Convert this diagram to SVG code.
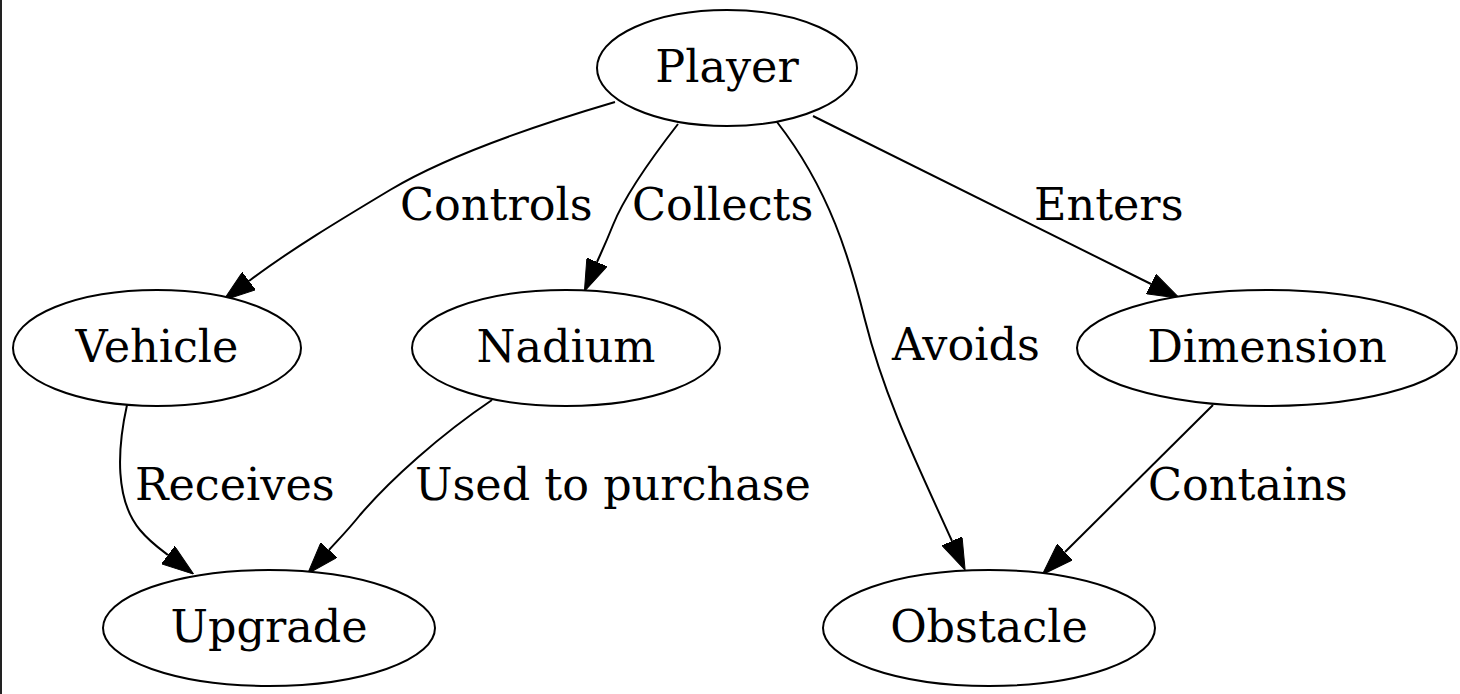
<svg xmlns="http://www.w3.org/2000/svg" width="1460" height="694" viewBox="0 0 1460 694">
<defs>
<style>
.node ellipse{fill:#fff;stroke:#000;stroke-width:2}
.node text{font-family:"DejaVu Serif",serif;font-size:44.5px;text-anchor:middle;fill:#000}
.edges path{fill:none;stroke:#000;stroke-width:2;marker-end:url(#arr)}
.lbl{font-family:"DejaVu Serif",serif;font-size:44.5px;fill:#000}
</style>
<marker id="arr" viewBox="0 0 32 22" refX="0" refY="11" markerWidth="32" markerHeight="22" markerUnits="userSpaceOnUse" orient="auto">
<path d="M0,0 L32,11 L0,22 z" fill="#000" stroke="#000" stroke-width="1"/>
</marker>
</defs>
<rect width="1460" height="694" fill="#fff"/>
<rect x="0" y="0" width="2" height="694" fill="#222"/>
<g class="edges" id="edges">
<path d="M615,102 C520,130 440,160 390,190 C340,220 290,250 249,281"/>
<path d="M678,124 C650,160 625,195 613,225 C605,245 600,255 597,262"/>
<path d="M777,122 C830,190 850,260 865,320 C885,400 920,470 952,541"/>
<path d="M813,116 L1151,284"/>
<path d="M127,405 C117,450 115,500 140,530 C150,542 160,549 168,555"/>
<path d="M492,400 C440,435 390,480 360,515 C348,530 338,540 329,550"/>
<path d="M1213,405 L1065,552"/>
<text class="lbl" x="400" y="220">Controls</text>
<text class="lbl" x="632" y="220">Collects</text>
<text class="lbl" x="1034" y="220">Enters</text>
<text class="lbl" x="892" y="360">Avoids</text>
<text class="lbl" x="135" y="500">Receives</text>
<text class="lbl" x="415" y="500">Used to purchase</text>
<text class="lbl" x="1148" y="500">Contains</text>
</g>
<g class="node" id="player"><ellipse cx="727" cy="68" rx="130" ry="58"/><text x="727" y="82">Player</text></g>
<g class="node" id="vehicle"><ellipse cx="157" cy="348" rx="144" ry="58"/><text x="157" y="362">Vehicle</text></g>
<g class="node" id="nadium"><ellipse cx="566" cy="348" rx="154" ry="58"/><text x="566" y="362">Nadium</text></g>
<g class="node" id="dimension"><ellipse cx="1267" cy="348" rx="190" ry="58"/><text x="1267" y="362">Dimension</text></g>
<g class="node" id="upgrade"><ellipse cx="269" cy="628" rx="166" ry="58"/><text x="269" y="642">Upgrade</text></g>
<g class="node" id="obstacle"><ellipse cx="989" cy="628" rx="166" ry="58"/><text x="989" y="642">Obstacle</text></g>
</svg>
